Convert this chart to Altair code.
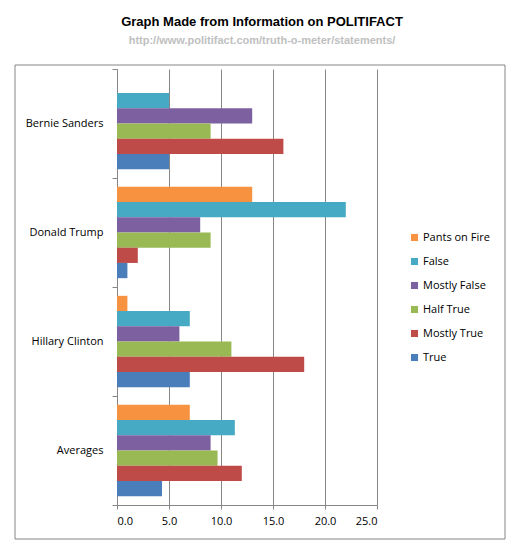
import altair as alt
import pandas as pd

candidates = ["Bernie Sanders", "Donald Trump", "Hillary Clinton", "Averages"]
ratings = ["Pants on Fire", "False", "Mostly False", "Half True", "Mostly True", "True"]
colors = ["#f69240", "#46aac5", "#7d60a0", "#98b954", "#be4b48", "#4a7ebb"]

# one list per rating, in candidate order
pants_on_fire = [0, 13, 1, 7]
false = [5, 22, 7, 11.33]
mostly_false = [13, 8, 6, 9]
half_true = [9, 9, 11, 9.67]
mostly_true = [16, 2, 18, 12]
true = [5, 1, 7, 4.33]

series = [pants_on_fire, false, mostly_false, half_true, mostly_true, true]
rows = []
for rating, vals in zip(ratings, series):
    for cand, v in zip(candidates, vals):
        rows.append({"candidate": cand, "rating": rating, "value": v})
df = pd.DataFrame(rows)

axis_gray = "#868686"
font = "Open Sans"

bars = alt.Chart(df).mark_bar().encode(
    x=alt.X(
        "value:Q",
        title=None,
        scale=alt.Scale(domain=[0, 25], nice=False),
        axis=alt.Axis(
            values=[0, 5, 10, 15, 20, 25], format=".1f", grid=True,
            gridColor=axis_gray, domainColor=axis_gray, tickColor=axis_gray,
            tickSize=4, labelPadding=6, labelFontSize=11, labelColor="#000",
            labelFont=font,
        ),
    ),
    y=alt.Y(
        "candidate:N",
        title=None,
        sort=candidates,
        scale=alt.Scale(paddingInner=0, paddingOuter=0),
        axis=alt.Axis(
            tickBand="extent", domainColor=axis_gray, tickColor=axis_gray,
            tickSize=5, labelPadding=9, labelFontSize=11, labelColor="#000",
            labelFont=font,
        ),
    ),
    yOffset=alt.YOffset(
        "rating:N", sort=ratings,
        scale=alt.Scale(paddingInner=0, paddingOuter=0.58),
    ),
    color=alt.Color(
        "rating:N",
        scale=alt.Scale(domain=ratings, range=colors),
        legend=alt.Legend(
            title=None, orient="none", legendX=292, legendY=163,
            symbolType="square", symbolSize=50, symbolStrokeWidth=0,
            labelFontSize=11, labelFont=font, labelColor="#000",
            rowPadding=12, labelOffset=3,
        ),
    ),
)

frame = alt.Chart(pd.DataFrame({"a": [0]})).mark_rect(
    fill="transparent", stroke=axis_gray, strokeWidth=1
).encode(
    x=alt.value(-102), x2=alt.value(388), y=alt.value(-4), y2=alt.value(470)
)

chart = alt.layer(frame, bars).properties(
    width=260,
    height=436,
    padding={"left": 109, "top": 61, "right": 139, "bottom": 43},
    autosize=alt.AutoSizeParams(type="none"),
    title=alt.TitleParams(
        text="Graph Made from Information on POLITIFACT",
        subtitle="http://www.politifact.com/truth-o-meter/statements/",
        font="Liberation Sans", fontSize=13, fontWeight="bold", color="#000",
        subtitleFont="Liberation Sans", subtitleFontSize=11,
        subtitleFontWeight="bold", subtitleColor="#c0c0c0",
        subtitlePadding=6, anchor="middle", frame="group", dx=15, offset=17,
    ),
).configure_view(strokeWidth=0)

chart.save("out.html", embed_options={"renderer": "svg", "actions": False})
